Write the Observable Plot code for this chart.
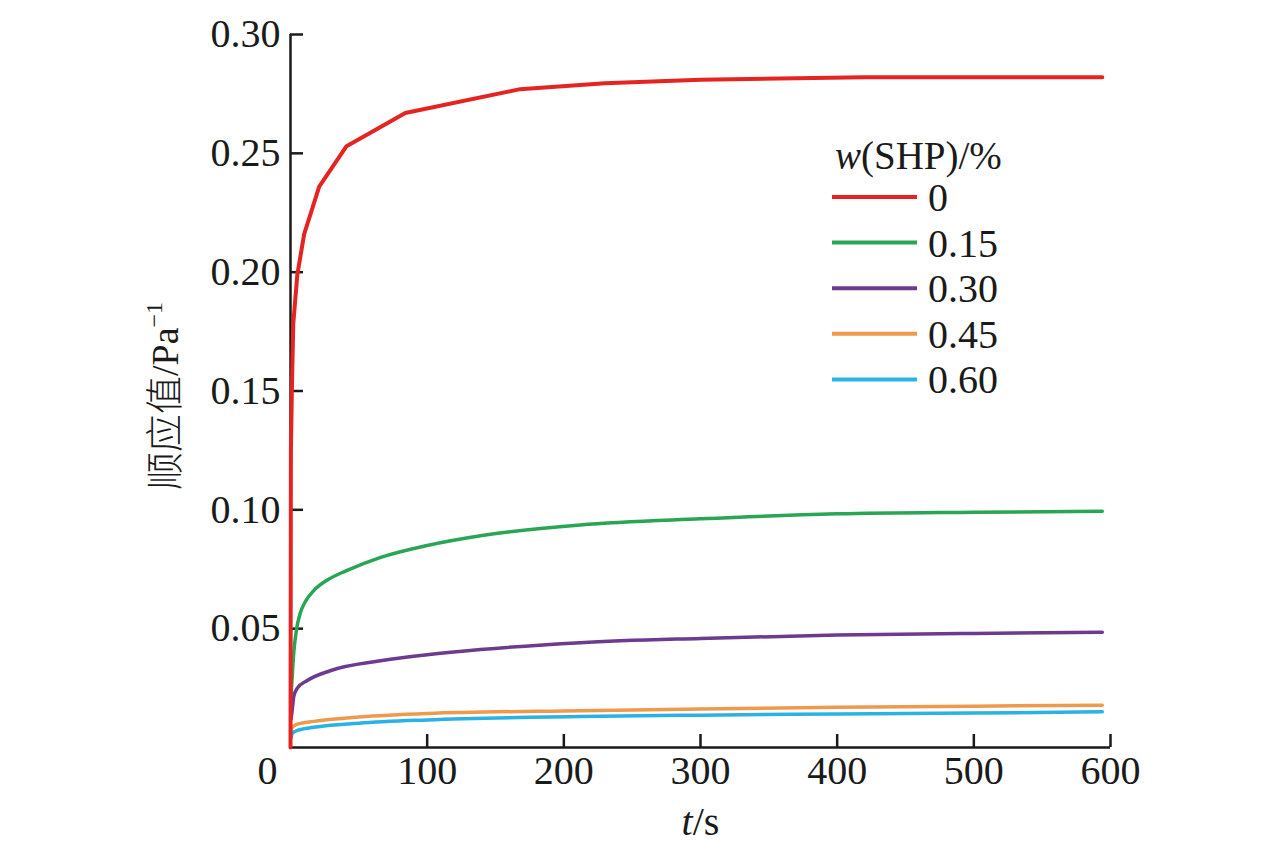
<!DOCTYPE html>
<html><head><meta charset="utf-8">
<script src="https://cdn.jsdelivr.net/npm/d3@7"></script>
<script src="https://cdn.jsdelivr.net/npm/@observablehq/plot@0.6"></script>
<style>body{margin:0;background:#fff}</style>
</head><body><div id="chart"></div>
<script>
const seriesNames = ["0", "0.15", "0.30", "0.45", "0.60"];
const seriesColors = ["#e52421", "#2aa556", "#6c3b8f", "#f0994c", "#2ab2e4"];

const t_0 = [0, 0.3, 1, 2, 5, 10, 21, 41, 84, 168, 230, 300, 420, 594];
const v_0 = [0, 0.125, 0.15, 0.178, 0.199, 0.216, 0.236, 0.253, 0.267, 0.277, 0.2795, 0.281, 0.282, 0.282];

const t_15 = [0.4, 1.2, 2.4, 4.5, 7, 11, 17, 27, 41, 66, 100, 139, 212, 300, 400, 500, 594];
const v_15 = [0.022, 0.0295, 0.040, 0.050, 0.0563, 0.0615, 0.066, 0.0705, 0.0744, 0.080, 0.085, 0.0891, 0.0936, 0.0962, 0.0983, 0.0990, 0.0994];

const t_30 = [0.4, 1.2, 2.4, 5, 12, 29, 66, 100, 139, 212, 300, 400, 500, 594];
const v_30 = [0.012, 0.0155, 0.0215, 0.025, 0.0281, 0.0323, 0.0365, 0.039, 0.0412, 0.0441, 0.0459, 0.0473, 0.0480, 0.0485];

const t_45 = [0.4, 1.2, 5, 17, 50, 100, 212, 300, 400, 500, 594];
const v_45 = [0.006, 0.0085, 0.0098, 0.011, 0.0128, 0.0143, 0.0155, 0.0162, 0.0169, 0.0174, 0.0178];

const t_60 = [0.4, 1.2, 5, 17, 50, 100, 212, 300, 400, 500, 594];
const v_60 = [0.004, 0.0058, 0.0072, 0.0085, 0.0102, 0.0116, 0.0130, 0.0136, 0.0141, 0.0145, 0.0150];

const xTicks = [100, 200, 300, 400, 500, 600];
const xZero = [0];
const yTicks = [0.05, 0.10, 0.15, 0.20, 0.25, 0.30];

const seriesT = [t_0, t_15, t_30, t_45, t_60];
const seriesV = [v_0, v_15, v_30, v_45, v_60];
const data = [];
seriesNames.forEach((s, i) => seriesT[i].forEach((t, j) => data.push({s, t, v: seriesV[i][j]})));

const serif = "'Liberation Serif','Times New Roman',serif";

const plot = Plot.plot({
  width: 1276, height: 849,
  marginLeft: 290, marginRight: 166, marginTop: 34, marginBottom: 102,
  style: {fontFamily: serif, fontSize: "40px", background: "#fff", color: "#1a1a1a"},
  x: {domain: [0, 600]},
  y: {domain: [0, 0.3]},
  color: {domain: seriesNames, range: seriesColors},
  marks: [
    Plot.ruleX([0], {stroke: "#1a1a1a", strokeWidth: 2.5}),
    Plot.ruleY([0], {stroke: "#1a1a1a", strokeWidth: 2.5}),
    Plot.axisY(yTicks, {tickSize: -13, tickPadding: 23, tickFormat: d3.format(".2f"), label: null, strokeWidth: 2.5, fontSize: 40}),
    Plot.axisX(xTicks, {tickSize: -13, tickPadding: 21, tickFormat: d => String(d), label: null, strokeWidth: 2.5, fontSize: 40}),
    Plot.axisX(xZero, {tickSize: 0, tickPadding: 8, tickFormat: d => String(d), label: null, fontSize: 40, dx: -23}),
    Plot.line(data.filter(d => d.s !== "0"), {x: "t", y: "v", z: "s", stroke: "s", strokeWidth: 3.5, curve: "monotone-x"}),
    Plot.line(data.filter(d => d.s === "0"), {x: "t", y: "v", stroke: "s", strokeWidth: 4}),
    Plot.text(["t/s"], {frameAnchor: "bottom", dy: 75, lineAnchor: "middle", textAnchor: "middle", fontSize: 40, className: "xlab"}),
    Plot.text(["顺应值/Pa-1"], {frameAnchor: "left", dx: -125, dy: 5, rotate: -90, textAnchor: "middle", lineAnchor: "middle",
      fontSize: 38, className: "ylab", fontFamily: "'Liberation Serif','Noto Sans CJK SC',serif"})
  ]
});

const svg = d3.select(plot);
svg.select("g.xlab text").html('<tspan font-style="italic">t</tspan>/s');
svg.select("g.ylab text").html('<tspan font-family="Noto Sans CJK SC" font-weight="300">顺应值</tspan>/Pa<tspan font-size="24" dy="-16">−1</tspan>');

// legend
const lg = svg.append("g").attr("font-family", serif).attr("font-size", 40)
  .attr("fill", "#1a1a1a").attr("text-anchor", "start");
lg.append("text").attr("x", 835).attr("y", 155).attr("dy", "0.35em").attr("font-size", 39)
  .html('<tspan font-style="italic">w</tspan>(SHP)/%');
seriesNames.forEach((s, i) => {
  const y = 197 + i * 45.6;
  lg.append("line").attr("x1", 832).attr("x2", 917).attr("y1", y).attr("y2", y)
    .attr("stroke", seriesColors[i]).attr("stroke-width", 4);
  lg.append("text").attr("x", 928).attr("y", y).attr("dy", "0.35em").text(s);
});

document.getElementById("chart").append(plot);
</script>
</body></html>
